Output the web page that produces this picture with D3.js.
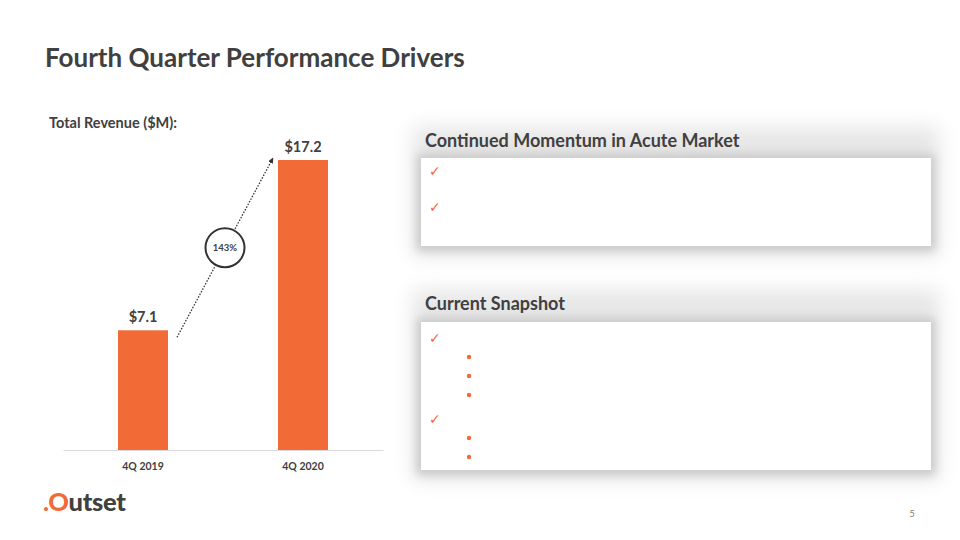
<!DOCTYPE html>
<html>
<head>
<meta charset="utf-8">
<script src="https://cdn.jsdelivr.net/npm/d3@7"></script>
<style>
    body { margin: 0; background: #fff; }
    svg { display: block; font-family: Lato, "Open Sans", sans-serif; }
</style>
</head>
<body>
<svg id="chart"></svg>
<script>
const categories = ["4Q 2019", "4Q 2020"];
const revenue = [7.1, 17.2];
const valueLabels = ["$7.1", "$17.2"];
const growthLabel = "143%";
const panelTitles = ["Continued Momentum in Acute Market", "Current Snapshot"];
const panelItems = [
    ["check", "check"],
    ["check", "dot", "dot", "dot", "check", "dot", "dot"]
];

const width = 960;
const height = 540;
const orange = "#F26A36";
const dark = "#404040";

const svg = d3.select("#chart").attr("width", width).attr("height", height);

// soft shadow filters for the panels
const defs = svg.append("defs");
[["haze", 10], ["shadow", 5]].forEach(([id, sd]) => {
    defs.append("filter")
        .attr("id", id)
        .attr("x", "-20%").attr("y", "-50%")
        .attr("width", "140%").attr("height", "200%")
        .append("feGaussianBlur")
        .attr("stdDeviation", sd);
});

defs.append("marker")
    .attr("id", "arrow")
    .attr("viewBox", "0 0 10 10")
    .attr("refX", 8).attr("refY", 5)
    .attr("markerWidth", 5).attr("markerHeight", 5)
    .attr("orient", "auto")
    .append("path")
    .attr("d", "M0,1 L9,5 L0,9 Z")
    .attr("fill", "#333");

// Title
svg.append("text")
    .attr("x", 45).attr("y", 67)
    .attr("font-size", 26).attr("font-weight", 700)
    .attr("fill", dark)
    .text("Fourth Quarter Performance Drivers");

svg.append("text")
    .attr("x", 49).attr("y", 128)
    .attr("font-size", 14.5).attr("font-weight", 700)
    .attr("fill", dark)
    .text("Total Revenue ($M):");

// Bar chart
const chart = { left: 63, right: 383, top: 160, bottom: 450 };

const xScale = d3.scaleBand()
    .domain(categories)
    .range([chart.left, chart.right])
    .paddingInner(0.6875)
    .paddingOuter(0.34375);

const yScale = d3.scaleLinear()
    .domain([0, d3.max(revenue)])
    .range([chart.bottom, chart.top]);

svg.selectAll(".bar")
    .data(revenue)
    .enter()
    .append("rect")
    .attr("class", "bar")
    .attr("x", (d, i) => xScale(categories[i]))
    .attr("y", d => yScale(d))
    .attr("width", xScale.bandwidth())
    .attr("height", d => chart.bottom - yScale(d))
    .attr("fill", orange);

svg.selectAll(".value")
    .data(revenue)
    .enter()
    .append("text")
    .attr("class", "value")
    .attr("x", (d, i) => xScale(categories[i]) + xScale.bandwidth() / 2)
    .attr("y", d => yScale(d) - 8)
    .attr("text-anchor", "middle")
    .attr("font-size", 14.5).attr("font-weight", 700)
    .attr("fill", dark)
    .text((d, i) => valueLabels[i]);

const xAxis = svg.append("g")
    .attr("transform", `translate(0,${chart.bottom})`)
    .call(d3.axisBottom(xScale).tickSize(0).tickPadding(13));
xAxis.select(".domain").attr("stroke", "#d9d9d9");
xAxis.selectAll("text")
    .attr("font-family", "Lato, sans-serif")
    .attr("font-size", 10.5).attr("font-weight", 700)
    .attr("fill", dark);

// growth arrow between bar tops
const x0 = xScale(categories[0]) + xScale.bandwidth() + 9;
const y0 = yScale(revenue[0]) + 7;
const x1 = xScale(categories[1]) - 5;
const y1 = yScale(revenue[1]) - 2;

svg.append("line")
    .attr("x1", x0).attr("y1", y0)
    .attr("x2", x1).attr("y2", y1)
    .attr("stroke", "#333")
    .attr("stroke-width", 1.3)
    .attr("stroke-dasharray", "1.5,1.5")
    .attr("marker-end", "url(#arrow)");

svg.append("circle")
    .attr("cx", (x0 + x1) / 2).attr("cy", (y0 + y1) / 2)
    .attr("r", 19.5)
    .attr("fill", "#fff")
    .attr("stroke", "#333")
    .attr("stroke-width", 2);

svg.append("text")
    .attr("x", (x0 + x1) / 2).attr("y", (y0 + y1) / 2)
    .attr("dy", "0.35em")
    .attr("text-anchor", "middle")
    .attr("font-size", 9.5).attr("font-weight", 700)
    .attr("fill", dark)
    .text(growthLabel);

// Right-hand panels
const panels = [
    { top: 158, bottom: 246, titleY: 147, firstY: 171, step: 36, extra: 0 },
    { top: 322, bottom: 470, titleY: 310, firstY: 338, step: 19, extra: 5 }
];
const panelLeft = 421;
const panelRight = 931;

panels.forEach((p, i) => {
    // wide light haze behind heading and box
    svg.append("rect")
        .attr("x", panelLeft - 8).attr("y", p.titleY - 20)
        .attr("width", panelRight - panelLeft + 16)
        .attr("height", p.bottom - p.titleY + 30)
        .attr("fill", "#e6e6e6")
        .attr("filter", "url(#haze)");

    // tighter shadow round the box
    svg.append("rect")
        .attr("x", panelLeft - 4).attr("y", p.top - 4)
        .attr("width", panelRight - panelLeft + 8)
        .attr("height", p.bottom - p.top + 9)
        .attr("fill", "#c9c9c9")
        .attr("filter", "url(#shadow)");

    svg.append("rect")
        .attr("x", panelLeft).attr("y", p.top)
        .attr("width", panelRight - panelLeft)
        .attr("height", p.bottom - p.top)
        .attr("fill", "#fff");

    svg.append("text")
        .attr("x", 425).attr("y", p.titleY)
        .attr("font-size", 18).attr("font-weight", 700)
        .attr("fill", dark)
        .text(panelTitles[i]);

    let y = p.firstY;
    panelItems[i].forEach((kind, j) => {
        if (j > 0) y += p.step + (kind === "check" ? p.extra : 0);
        if (kind === "check") {
            svg.append("text")
                .attr("x", 429).attr("y", y)
                .attr("dy", "0.35em")
                .attr("font-family", "DejaVu Sans, sans-serif")
                .attr("font-size", 14)
                .attr("fill", orange)
                .text("\u2713");
        } else {
            svg.append("circle")
                .attr("cx", 469).attr("cy", y)
                .attr("r", 2.2)
                .attr("fill", orange);
        }
    });
});

// Logo
const logo = svg.append("text")
    .attr("x", 43).attr("y", 511)
    .attr("font-size", 25.5).attr("font-weight", 900)
    .attr("letter-spacing", -0.3);
logo.append("tspan").attr("fill", orange).text(".");
logo.append("tspan").attr("fill", orange).text("O");
logo.append("tspan").attr("fill", dark).text("utset");

// Page number
svg.append("text")
    .attr("x", 912).attr("y", 517)
    .attr("text-anchor", "middle")
    .attr("font-size", 9)
    .attr("fill", "#777")
    .text("5");
</script>
</body>
</html>
